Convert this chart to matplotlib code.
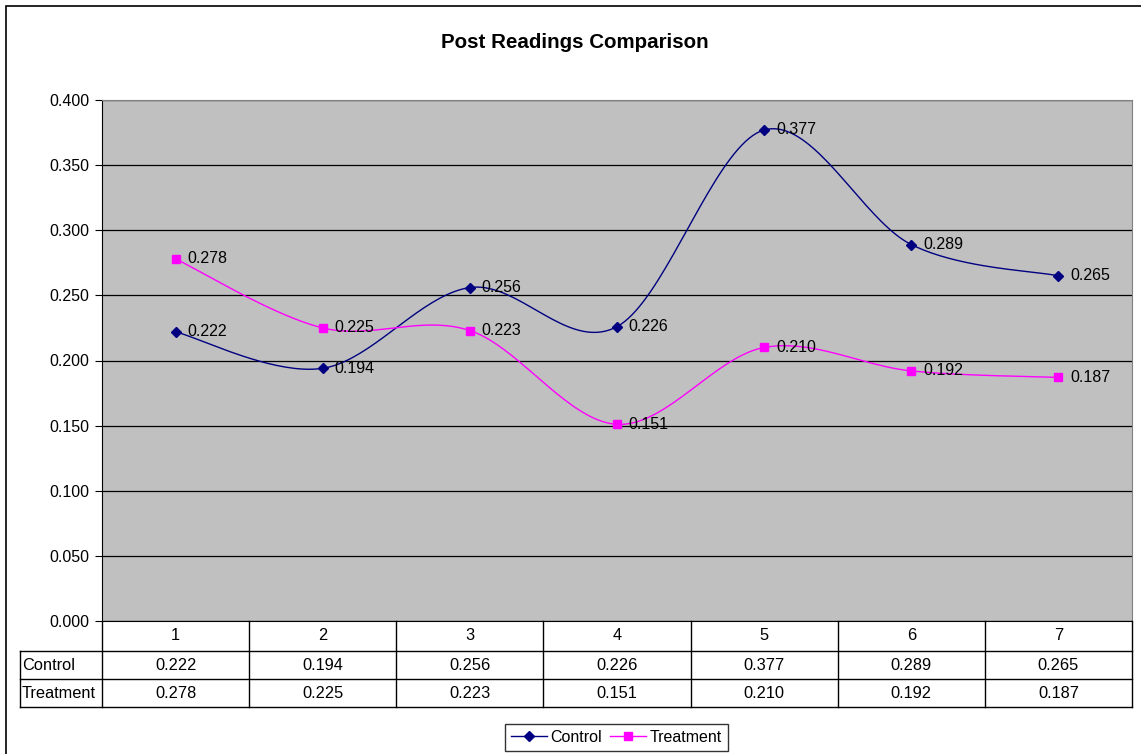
import numpy as np
import matplotlib.pyplot as plt
from matplotlib.patches import Rectangle
from matplotlib.lines import Line2D

plt.rcParams['font.family'] = ['Liberation Sans', 'DejaVu Sans']

# data
categories = ['1', '2', '3', '4', '5', '6', '7']
control = [0.222, 0.194, 0.256, 0.226, 0.377, 0.289, 0.265]
treatment = [0.278, 0.225, 0.223, 0.151, 0.210, 0.192, 0.187]
series_names = ['Control', 'Treatment']

W, H = 1141, 754
fig = plt.figure(figsize=(W / 100, H / 100), dpi=100)


def fx(px):
    return px / W


def fy(py):
    return 1 - py / H


# outer chart border
fig.add_artist(Rectangle((fx(6), -0.05), 1.1, fy(6) + 0.05, transform=fig.transFigure,
                         fill=False, edgecolor='black', linewidth=1.2))

left, right, top, bottom = 102, 1132, 100, 621
ax = fig.add_axes([fx(left), fy(bottom), fx(right - left), fy(top) - fy(bottom)])
ax.set_facecolor('#C0C0C0')


def smooth(ys, n=40):
    # Excel-like smoothed line: cubic bezier with catmull-rom control points
    pts = np.column_stack([np.arange(len(ys)), ys]).astype(float)
    out = []
    for i in range(len(pts) - 1):
        p0 = pts[i]
        p3 = pts[i + 1]
        pm = pts[i - 1] if i > 0 else pts[i]
        pp = pts[i + 2] if i + 2 < len(pts) else pts[i + 1]
        p1 = p0 + (p3 - pm) / 6
        p2 = p3 - (pp - p0) / 6
        t = np.linspace(0, 1, n)[:, None]
        seg = (1 - t) ** 3 * p0 + 3 * (1 - t) ** 2 * t * p1 + 3 * (1 - t) * t ** 2 * p2 + t ** 3 * p3
        out.append(seg if i == 0 else seg[1:])
    out = np.vstack(out)
    return out[:, 0], out[:, 1]


x = np.arange(len(categories))
styles = [('#000080', 'D', 5.5), ('#FF00FF', 's', 5.5)]
for vals, (col, mk, ms) in zip([control, treatment], styles):
    sx, sy = smooth(vals)
    ax.plot(sx, sy, color=col, linewidth=1, zorder=3)
    ax.plot(x, vals, linestyle='none', marker=mk, markersize=ms, color=col, zorder=4)
    for xi, v in zip(x, vals):
        ax.annotate(f'{v:.3f}', (xi, v), xytext=(8.5, 0), textcoords='offset points',
                    va='center', ha='left', fontsize=11.5, zorder=5)

ax.set_xlim(-0.5, len(categories) - 0.5)
ax.set_ylim(0, 0.4)
ax.set_yticks(np.arange(0, 0.401, 0.05))
ax.set_yticklabels([f'{v:.3f}' for v in np.arange(0, 0.401, 0.05)])
ax.tick_params(axis='y', length=5, labelsize=11.5, pad=4)
ax.set_xticks([])
ax.grid(axis='y', color='black', linewidth=0.9)
ax.set_axisbelow(True)
for s in ['top', 'right']:
    ax.spines[s].set_color('#808080')
ax.spines['left'].set_color('black')
ax.spines['bottom'].set_color('black')

fig.text(fx(575), fy(42), 'Post Readings Comparison', fontsize=14.8, fontweight='bold',
         ha='center', va='center')

# data table below the plot area
col_w = (right - left) / len(categories)
rows_y = [621, 651, 679, 707]
lw = 1.0
tf = fig.transFigure
for py in rows_y[1:]:
    fig.add_artist(Line2D([fx(20), fx(right)], [fy(py), fy(py)], transform=tf, color='black', lw=lw))
for i in range(len(categories) + 1):
    px = left + i * col_w
    fig.add_artist(Line2D([fx(px), fx(px)], [fy(rows_y[0]), fy(rows_y[-1])], transform=tf,
                          color='black', lw=lw))
fig.add_artist(Line2D([fx(20), fx(20)], [fy(rows_y[1]), fy(rows_y[-1])], transform=tf,
                      color='black', lw=lw))

fs = 11.8
for i, c in enumerate(categories):
    cx = left + (i + 0.5) * col_w
    fig.text(fx(cx), fy(636), c, ha='center', va='center', fontsize=fs)
    fig.text(fx(cx), fy(665), f'{control[i]:.3f}', ha='center', va='center', fontsize=fs)
    fig.text(fx(cx), fy(693), f'{treatment[i]:.3f}', ha='center', va='center', fontsize=fs)
fig.text(fx(22), fy(665), series_names[0], ha='left', va='center', fontsize=fs)
fig.text(fx(22), fy(693), series_names[1], ha='left', va='center', fontsize=fs)

handles = [Line2D([], [], color=c, marker=m, markersize=ms, lw=1) for c, m, ms in styles]
leg = fig.legend(handles, series_names, loc='center', bbox_to_anchor=(fx(616.5), fy(737.5)),
                 ncol=2, frameon=True, fancybox=False, fontsize=11.5, handlelength=2.25,
                 columnspacing=0.5, handletextpad=0.25, borderpad=0.35, borderaxespad=0)
leg.get_frame().set_edgecolor('black')
leg.get_frame().set_linewidth(1)

fig.savefig('out.png', dpi=100)
